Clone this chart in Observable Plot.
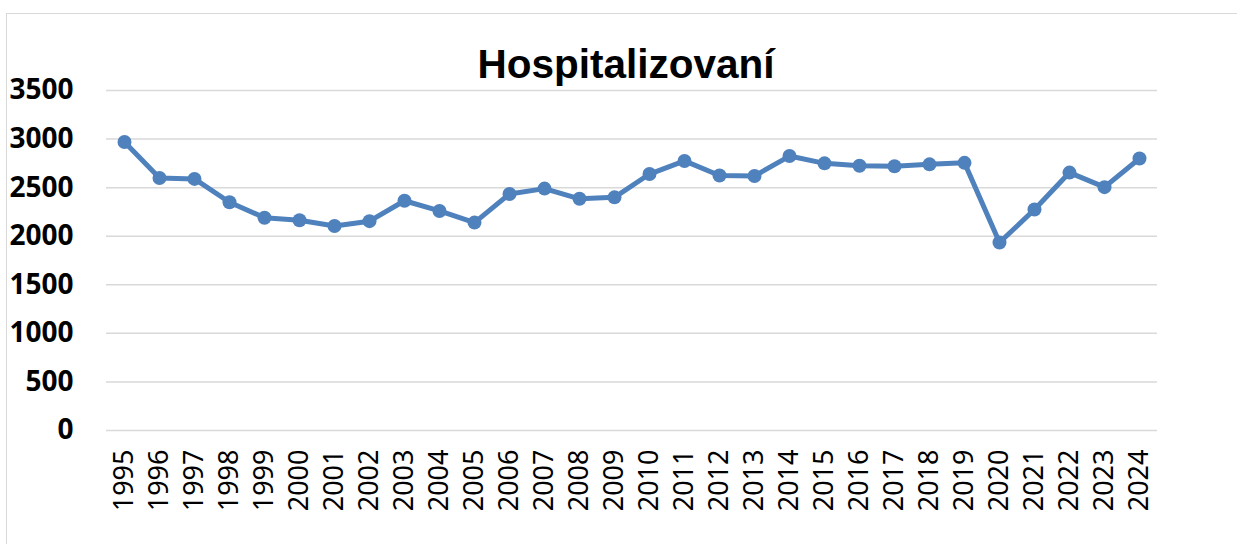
<!DOCTYPE html>
<html>
<head>
<meta charset="utf-8">
<script src="https://cdn.jsdelivr.net/npm/d3@7"></script>
<script src="https://cdn.jsdelivr.net/npm/@observablehq/plot@0.6"></script>
<style>
  html, body { margin: 0; padding: 0; background: #fff; }
  body { width: 1237px; height: 544px; overflow: hidden; position: relative; }
  #frame { position: absolute; left: 6px; top: 13px; width: 1300px; height: 600px;
           border: 1.5px solid #d9d9d9; pointer-events: none; }
  #title { width: 1237px; box-sizing: border-box; padding-left: 15px; padding-top: 44px;
           height: 84px; line-height: 40px; text-align: center;
           font-family: "Liberation Sans", Arial, sans-serif; font-weight: bold; font-size: 40.5px; color: #000; }
  #chart svg { display: block; }
</style>
</head>
<body>
<div id="title">Hospitalizovaní</div>
<div id="chart"></div>
<div id="frame"></div>
<script>
const years = ["1995","1996","1997","1998","1999","2000","2001","2002","2003","2004",
               "2005","2006","2007","2008","2009","2010","2011","2012","2013","2014",
               "2015","2016","2017","2018","2019","2020","2021","2022","2023","2024"];
const hospitalized = [2970, 2600, 2590, 2350, 2190, 2165, 2105, 2155, 2365, 2260,
                      2140, 2435, 2490, 2385, 2400, 2640, 2775, 2625, 2620, 2825,
                      2750, 2725, 2720, 2740, 2755, 1935, 2275, 2655, 2505, 2800];
const yTicks = [0, 500, 1000, 1500, 2000, 2500, 3000, 3500];

const data = years.map((y, i) => ({year: y, value: hospitalized[i]}));

const chart = Plot.plot({
  width: 1237,
  height: 460,
  marginTop: 6,
  marginBottom: 114,
  marginLeft: 106,
  marginRight: 80,
  style: {overflow: "visible", background: "transparent"},
  x: {type: "point", domain: years, padding: 0.5, label: null, axis: null},
  y: {domain: [0, 3500], label: null, axis: null},
  marks: [
    Plot.gridY(yTicks, {stroke: "#d9d9d9", strokeOpacity: 1, strokeWidth: 1.5}),
    Plot.axisY(yTicks, {tickSize: 0, tickPadding: 33, fontSize: 28, fontWeight: "bold",
      tickFormat: d => String(d), fill: "#000", label: null, ariaLabel: "yticks"}),
    Plot.axisX(years, {tickSize: 0, tickPadding: 19, tickRotate: -90, fontSize: 27,
      fill: "#000", label: null, ariaLabel: "xticks"}),
    Plot.line(data, {x: "year", y: "value", stroke: "#4f81bd", strokeWidth: 5, strokeLinejoin: "round"}),
    Plot.dot(data, {x: "year", y: "value", r: 7, fill: "#4f81bd", stroke: null})
  ]
});
d3.select(chart).selectAll('g[aria-label="xticks"], g[aria-label="xticks"] text')
  .attr("font-family", "DejaVu Sans").style("font-family", "'DejaVu Sans'");
d3.select(chart).selectAll('g[aria-label="yticks"], g[aria-label="yticks"] text')
  .attr("font-family", "Liberation Sans").style("font-family", "'Liberation Sans'");
document.getElementById("chart").appendChild(chart);
</script>
</body>
</html>
